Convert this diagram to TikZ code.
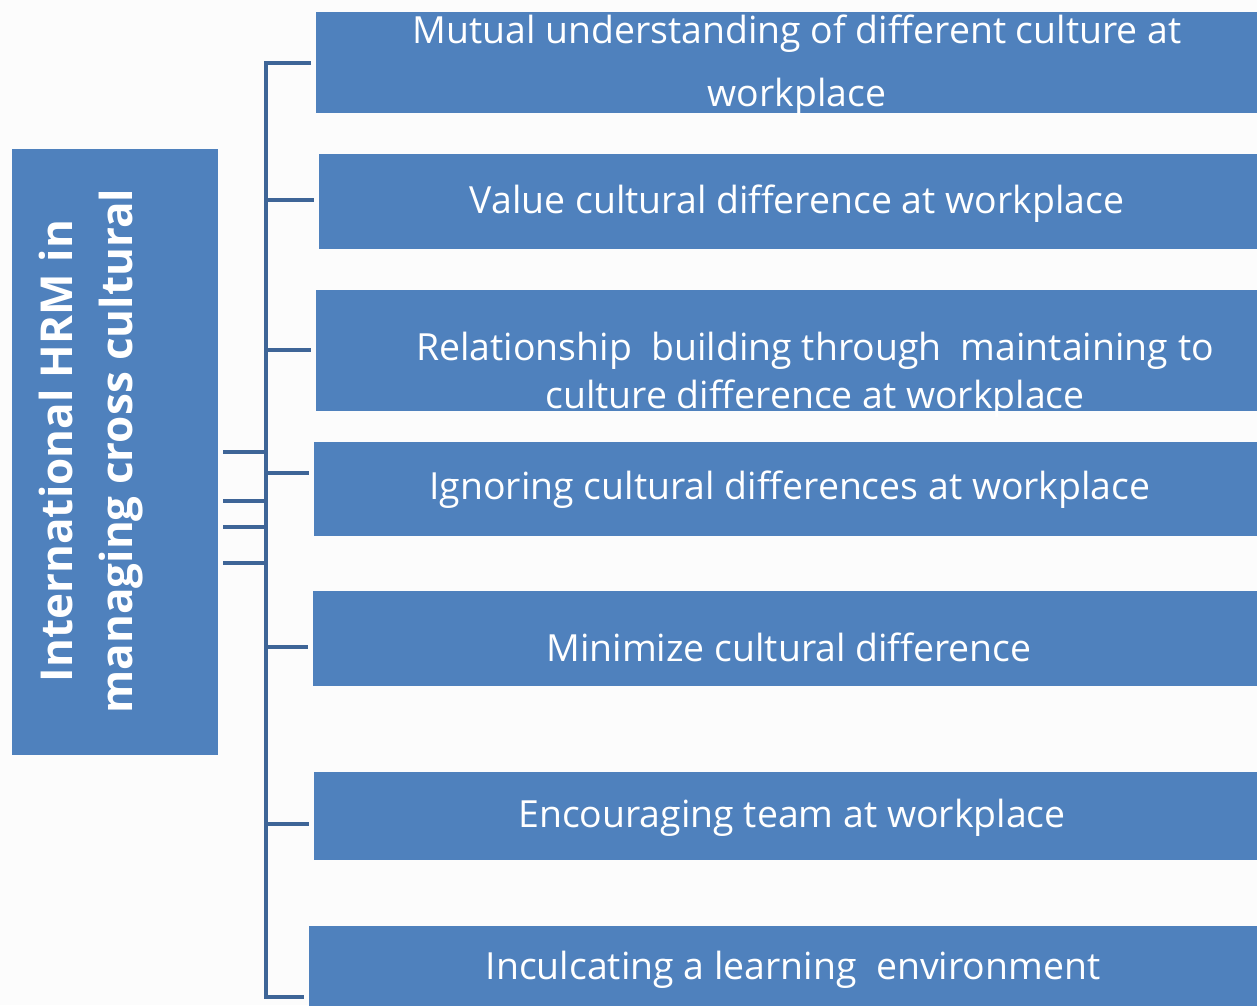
\documentclass[tikz,border=0pt]{standalone}
\usepackage{fontspec}
\setmainfont[Ligatures=NoCommon]{Open Sans}
\begin{document}
\begin{tikzpicture}[x=1pt,y=-1pt,
  box/.style={fill=boxblue,draw=none,inner sep=0pt,outer sep=0pt,anchor=north west},
  lbl/.style={text=white,font=\fontsize{37.4}{46}\selectfont,align=center,inner sep=0pt},
  conn/.style={draw=linkblue,line width=4pt}]
\definecolor{boxblue}{HTML}{4F81BD}
\definecolor{linkblue}{HTML}{3E6597}
\definecolor{paper}{HTML}{FCFCFC}
\fill[paper] (0,0) rectangle (1257,1005);
\useasboundingbox (0,0) rectangle (1257,1005);

% root box
\node[box,minimum width=206pt,minimum height=606pt] (root) at (12,149) {};
\node[lbl,rotate=90,font=\fontsize{44}{60}\selectfont\bfseries] (roottxt) at (91,451)
  {International HRM in\\managing cross cultural};

% item boxes
\node[box,minimum width=941pt,minimum height=101pt] (b1) at (316,12) {};
\node[box,minimum width=938pt,minimum height=95pt]  (b2) at (319,154) {};
\node[box,minimum width=941pt,minimum height=121pt] (b3) at (316,290) {};
\node[box,minimum width=943pt,minimum height=94pt]  (b4) at (314,442) {};
\node[box,minimum width=944pt,minimum height=95pt]  (b5) at (313,591) {};
\node[box,minimum width=943pt,minimum height=88pt]  (b6) at (314,772) {};
\node[box,minimum width=948pt,minimum height=85pt]  (b7) at (309,926) {};

% item texts
\node[lbl,font=\fontsize{37.4}{63}\selectfont] (t1) at (797,65)
  {Mutual understanding of different culture at\\workplace};
\node[lbl] (t2) at (797,204) {Value cultural difference at workplace};
\node[lbl,font=\fontsize{37.4}{48}\selectfont] (t3) at (815,375)
  {Relationship\ \ building through\ \ maintaining to\\culture difference at workplace};
\node[lbl] (t4) at (790,490) {Ignoring cultural differences at workplace};
\node[lbl] (t5) at (789,647) {Minimize cultural difference};
\node[lbl] (t6) at (792,818) {Encouraging team at workplace};
\node[lbl] (t7) at (793,970) {Inculcating a learning\ \ environment};

% spine junctions
\coordinate (s1) at (266,63);
\coordinate (s2) at (266,200);
\coordinate (s3) at (266,350);
\coordinate (s4) at (266,473);
\coordinate (s5) at (266,647);
\coordinate (s6) at (266,824);
\coordinate (s7) at (266,997);
\coordinate (l1) at (266,452);
\coordinate (l2) at (266,501);
\coordinate (l3) at (266,527);
\coordinate (l4) at (266,563);

% spine with top and bottom branches
\draw[conn,shorten <=5pt,shorten >=5pt] (b1.west |- s1) -- (s1) -- (s7) -- (b7.west |- s7);
% middle branches
\foreach \s/\b in {s2/b2,s3/b3,s4/b4,s5/b5,s6/b6}
  \draw[conn,shorten >=5pt] (\s) -- (\b.west |- \s);
% stubs from the root box
\foreach \l in {l1,l2,l3,l4}
  \draw[conn,shorten <=5pt] (root.east |- \l) -- (\l);
\end{tikzpicture}
\end{document}
